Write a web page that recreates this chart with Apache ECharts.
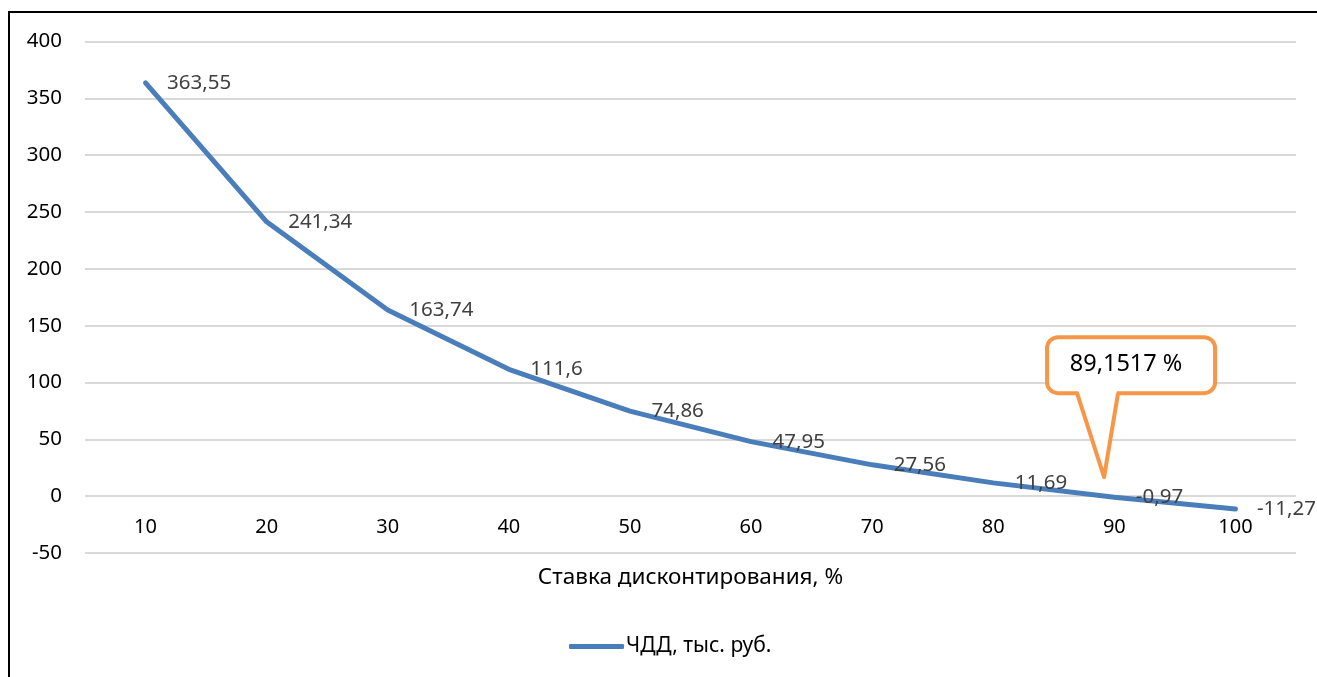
<!DOCTYPE html>
<html>
<head>
<meta charset="utf-8">
<script src="https://cdn.jsdelivr.net/npm/echarts@6/dist/echarts.min.js"></script>
<style>
  html, body { margin: 0; padding: 0; background: #fff; }
  #chart { width: 1317px; height: 677px; }
</style>
</head>
<body>
<div id="chart"></div>
<script>
// Discount rates, %, along the category axis
const rates = ['10', '20', '30', '40', '50', '60', '70', '80', '90', '100'];
// Net present value at each rate, thousand roubles
const npv = [363.55, 241.34, 163.74, 111.6, 74.86, 47.95, 27.56, 11.69, -0.97, -11.27];
// Value axis range and step
const yMin = -50, yMax = 400, yStep = 50;
// Internal rate of return, % (where the NPV crosses zero)
const irr = 89.1517;

const FONT = 'Noto Sans';
const BLUE = '#4a7ebb';
const ORANGE = '#f79646';
const GRID = '#d9d9d9';

const fmt = v => String(v).replace('.', ',');

const chart = echarts.init(document.getElementById('chart'), null, { renderer: 'canvas' });

chart.setOption({
  animation: false,
  backgroundColor: '#fff',
  textStyle: { fontFamily: FONT },
  grid: { left: 85, right: 21, top: 41.5, bottom: 124, containLabel: false },
  xAxis: {
    type: 'category',
    data: rates,
    boundaryGap: true,
    position: 'bottom',
    // category labels sit just under the zero line
    axisLine: { show: false, onZero: false },
    axisTick: { show: false },
    axisLabel: { margin: -36, color: '#000', fontSize: 20, fontFamily: FONT },
    name: 'Ставка дисконтирования, %',
    nameLocation: 'middle',
    nameGap: 13,
    nameTextStyle: { color: '#000', fontSize: 22.5, fontFamily: FONT },
    splitLine: { show: false }
  },
  yAxis: {
    type: 'value',
    min: yMin,
    max: yMax,
    interval: yStep,
    axisLine: { show: false },
    axisTick: { show: false },
    axisLabel: { margin: 23, color: '#000', fontSize: 20.5, fontFamily: FONT },
    splitLine: { show: true, lineStyle: { color: GRID, width: 2 } }
  },
  legend: {
    left: 569,
    top: 636,
    padding: 0,
    itemWidth: 55,
    itemHeight: 5,
    icon: 'roundRect',
    textStyle: { color: '#000', fontSize: 21, fontFamily: FONT, padding: [0, 0, 0, -3] },
    data: [{ name: 'ЧДД, тыс. руб.', itemStyle: { color: BLUE } }]
  },
  series: [{
    name: 'ЧДД, тыс. руб.',
    type: 'line',
    data: npv,
    symbol: 'circle',
    symbolSize: 1,
    showSymbol: true,
    itemStyle: { color: BLUE },
    lineStyle: { color: BLUE, width: 5, cap: 'round', join: 'round' },
    label: {
      show: true,
      position: 'right',
      distance: 21,
      color: '#404040',
      fontSize: 20.5,
      fontFamily: FONT,
      formatter: p => fmt(p.value)
    },
    z: 3
  }]
});

// Callout pointing at the zero crossing of the NPV curve
function drawCallout() {
  const i = Math.floor((irr - Number(rates[0])) / 10);
  const frac = (irr - Number(rates[i])) / (Number(rates[i + 1]) - Number(rates[i]));
  const xa = chart.convertToPixel({ xAxisIndex: 0 }, rates[i]);
  const xb = chart.convertToPixel({ xAxisIndex: 0 }, rates[i + 1]);
  const tipX = xa + frac * (xb - xa);
  const tipY = chart.convertToPixel({ yAxisIndex: 0 }, 0) - 19;

  const x0 = tipX - 57, x1 = tipX + 111;
  const y0 = tipY - 140, y1 = tipY - 84;
  const tl = tipX - 27, tr = tipX + 14;

  chart.setOption({
    graphic: [
      {
        type: 'rect',
        shape: { x: x0, y: y0, width: x1 - x0, height: y1 - y0, r: 11 },
        style: { fill: '#fff', stroke: ORANGE, lineWidth: 4 },
        z: 10
      },
      {
        // white wedge hides the box edge where the pointer joins it
        type: 'polygon',
        shape: { points: [[tl + 1, y1 - 3], [tipX, tipY], [tr - 1, y1 - 3]] },
        style: { fill: '#fff', stroke: null },
        z: 11
      },
      {
        type: 'polyline',
        shape: { points: [[tl, y1], [tipX, tipY], [tr, y1]] },
        style: { stroke: ORANGE, lineWidth: 4, lineJoin: 'round', fill: null },
        z: 12
      },
      {
        type: 'text',
        x: (x0 + x1) / 2 - 5,
        y: (y0 + y1) / 2 - 1,
        style: {
          text: fmt(irr) + ' %',
          fill: '#000',
          fontSize: 23.5,
          fontFamily: FONT,
          align: 'center',
          verticalAlign: 'middle'
        },
        z: 13
      },
      // chart frame: left and top edges
      {
        type: 'polyline',
        shape: { points: [[9, 677], [9, 12], [1317, 12]] },
        style: { stroke: '#000', lineWidth: 2, fill: null },
        z: 14
      }
    ]
  });
}
drawCallout();
</script>
</body>
</html>
